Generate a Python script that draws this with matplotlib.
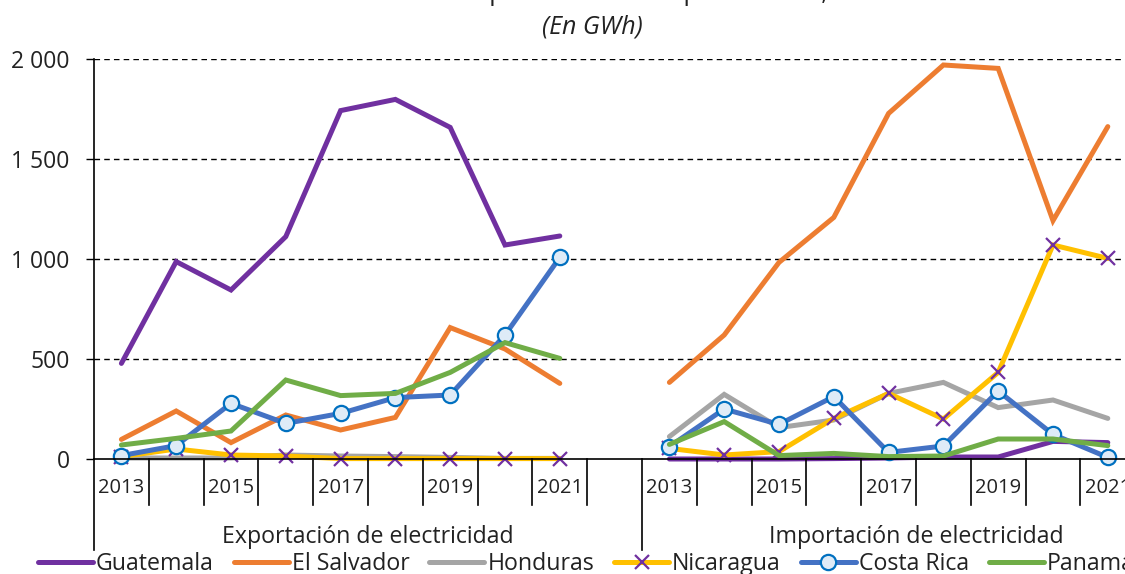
import numpy as np
import matplotlib.pyplot as plt
from matplotlib.lines import Line2D
import matplotlib.transforms as mtransforms

plt.rcParams['font.family'] = ['Open Sans', 'DejaVu Sans']

years = ['2013', '2014', '2015', '2016', '2017', '2018', '2019', '2020', '2021']
groups = ['Exportación de electricidad', 'Importación de electricidad']
countries = ['Guatemala', 'El Salvador', 'Honduras', 'Nicaragua', 'Costa Rica', 'Panamá']

# GWh
exp_guatemala = [478, 987, 845, 1112, 1742, 1798, 1658, 1070, 1115]
exp_salvador = [98, 240, 82, 220, 145, 208, 657, 550, 378]
exp_honduras = [5, 5, 5, 20, 15, 12, 8, 3, 3]
exp_nicaragua = [12, 50, 20, 15, 2, 2, 2, 2, 2]
exp_costarica = [17, 67, 278, 178, 228, 307, 320, 620, 1008]
exp_panama = [70, 103, 140, 395, 317, 328, 433, 582, 503]

imp_guatemala = [0, 0, 0, 2, 5, 10, 10, 88, 82]
imp_salvador = [383, 620, 983, 1208, 1728, 1970, 1953, 1192, 1662]
imp_honduras = [112, 323, 157, 195, 328, 383, 257, 295, 203]
imp_nicaragua = [53, 20, 37, 203, 328, 200, 433, 1070, 1003]
imp_costarica = [62, 250, 173, 312, 33, 65, 340, 123, 8]
imp_panama = [73, 187, 17, 28, 12, 15, 100, 100, 67]

exports = [exp_guatemala, exp_salvador, exp_honduras, exp_nicaragua, exp_costarica, exp_panama]
imports = [imp_guatemala, imp_salvador, imp_honduras, imp_nicaragua, imp_costarica, imp_panama]

colors = ['#7030A0', '#ED7D31', '#A5A5A5', '#FFC000', '#4472C4', '#70AD47']
slots_per_group = 10
txt = '#222222'

W, H = 1125, 574
fig = plt.figure(figsize=(W / 100, H / 100), dpi=100)
# axes extends past the right edge (the reference is cropped)
x0, x1, ytop, ybot = 94, 1190, 59, 459
ax = fig.add_axes([x0 / W, 1 - ybot / H, (x1 - x0) / W, (ybot - ytop) / H])

n = len(years)
xe = np.arange(n) + 0.5
xi = np.arange(n) + slots_per_group + 0.5


def style(i):
    kw = dict(color=colors[i], lw=3.6, solid_capstyle='round', solid_joinstyle='miter')
    if countries[i] == 'Nicaragua':
        kw.update(marker='x', ms=10, mec='#7030A0', mew=1.6)
    if countries[i] == 'Costa Rica':
        kw.update(marker='o', ms=11, mfc='#DEEBF7', mec='#0070C0', mew=1.6)
    return kw


for i, c in enumerate(countries):
    ax.plot(xe, exports[i], clip_on=False, label=c, **style(i))
    ax.plot(xi, imports[i], clip_on=False, **style(i))

ax.set_xlim(0, 2 * slots_per_group)
ax.set_ylim(0, 2000)
ax.set_yticks([0, 500, 1000, 1500, 2000])
ax.set_yticklabels(['0', '500', '1 000', '1 500', '2 000'], fontsize=16.5, color=txt)
ax.tick_params(axis='y', length=6, width=1, pad=11.5, direction='out')
ax.set_xticks([])
for y in [500, 1000, 1500, 2000]:
    ax.axhline(y, color='black', lw=1, ls=(0, (4, 3)), zorder=0)
for s in ['top', 'right']:
    ax.spines[s].set_visible(False)
ax.spines['left'].set_linewidth(1.2)
ax.spines['bottom'].set_linewidth(1.2)

# category axis: ticks, year labels, group separators
tr = mtransforms.blended_transform_factory(ax.transData, ax.transAxes)
for k in range(2 * slots_per_group + 1):
    if k % slots_per_group == 0:
        ax.plot([k, k], [0, -0.228], color='black', lw=1.2, transform=tr, clip_on=False)
    else:
        ax.plot([k, k], [0, -0.115], color='black', lw=1.2, transform=tr, clip_on=False)
for g in range(2):
    for j, yr in enumerate(years):
        if j % 2 == 0:
            ax.text(g * slots_per_group + j + 0.5, -0.072, yr, transform=tr,
                    ha='center', va='center', fontsize=14.5, color=txt)
    ax.text(g * slots_per_group + slots_per_group / 2, -0.195, groups[g], transform=tr,
            ha='center', va='center', fontsize=16.7, color=txt)

fig.text(592 / W, 1 + 7 / H, '3.2. Centroamérica: exportaciones e importaciones, 2013-2021',
         ha='center', va='center', fontsize=18, color=txt)
fig.text(592 / W, 1 - 27 / H, '(En GWh)', ha='center', va='center',
         fontsize=18, style='italic', color=txt)

handles = [Line2D([], [], **style(i)) for i in range(len(countries))]
fig.legend(handles, countries, loc='center left', bbox_to_anchor=(38 / W, 1 - 564 / H),
           ncol=6, frameon=False, fontsize=16.7, handlelength=2.37, handletextpad=0.13,
           columnspacing=0.86, borderpad=0, borderaxespad=0, labelcolor=txt)

fig.savefig('out.png', dpi=100)
